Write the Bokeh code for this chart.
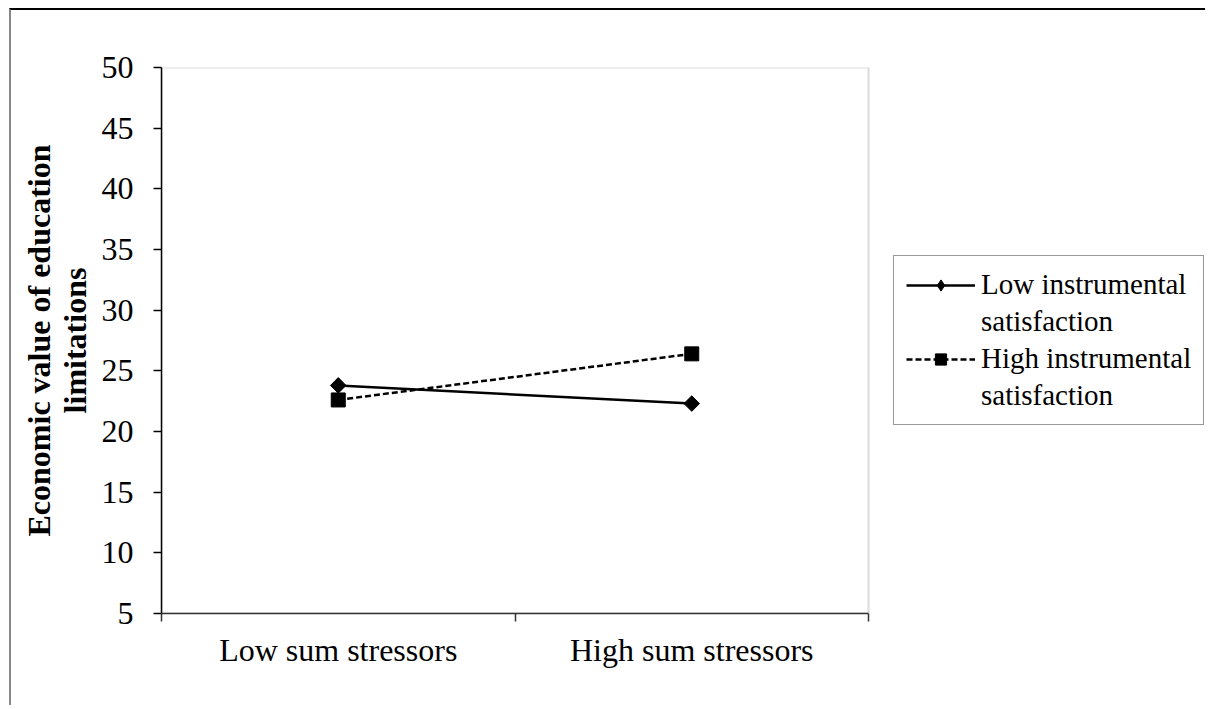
from bokeh.plotting import figure
from bokeh.models import (Range1d, FixedTicker, LinearAxis, Legend, LegendItem, ColumnDataSource,
                          BoxAnnotation, CDSView, IndexFilter)
from bokeh.embed import file_html
from bokeh.resources import INLINE

# ---- data ----
categories = ["Low sum stressors", "High sum stressors"]
low_instrumental = [23.8, 22.3]
high_instrumental = [22.6, 26.4]
y_ticks = [5, 10, 15, 20, 25, 30, 35, 40, 45, 50]
series_names = ["Low instrumental\nsatisfaction", "High instrumental\nsatisfaction"]
y_title = "Economic value of education\nlimitations"

FONT = "Liberation Serif"

# ---- layout (pixels) ----
W, H = 1196, 697
LEFT, TOP, BOTTOM = 150, 57, 94
PLOT_PX = 707              # width of the drawn plot area
FRAME_PX = W - LEFT        # frame spans to the right edge (legend sits inside it)

n = len(categories)
xs = [i + 0.5 for i in range(n)]
x_end = n * FRAME_PX / PLOT_PX

p = figure(width=W, height=H, output_backend="svg", toolbar_location=None,
           x_range=Range1d(0, x_end), y_range=Range1d(y_ticks[0], y_ticks[-1]),
           x_axis_type=None, y_axis_type=None)
p.min_border_left = LEFT
p.min_border_top = TOP
p.min_border_right = 0
p.min_border_bottom = BOTTOM
p.xgrid.visible = False
p.ygrid.visible = False
p.outline_line_color = None
p.background_fill_color = "white"
p.border_fill_color = "white"
p.styles = {"border-top": "2px solid #000000", "border-left": "2px solid #888888",
            "margin-left": "9px", "margin-top": "8px"}

# plot-area border (top/right visible; left/bottom covered by axes)
p.add_layout(BoxAnnotation(left=0, right=n, bottom=y_ticks[0], top=y_ticks[-1],
                           fill_alpha=0, line_color="#888888", line_width=2, level="underlay"))

# y axis
yax = LinearAxis(ticker=FixedTicker(ticks=y_ticks))
yax.major_tick_out = 8
yax.major_tick_in = 0
yax.minor_tick_line_color = None
yax.axis_line_color = "black"
yax.axis_line_width = 1.5
yax.major_tick_line_color = "black"
yax.major_tick_line_width = 1.5
yax.major_label_text_font = FONT
yax.major_label_text_font_size = "32px"
yax.major_label_text_color = "black"
yax.major_label_standoff = 20
yax.axis_label = y_title
yax.axis_label_text_font = FONT
yax.axis_label_text_font_size = "32px"
yax.axis_label_text_font_style = "bold"
yax.axis_label_text_color = "black"
yax.axis_label_text_line_height = 1.0
yax.axis_label_standoff = 6
p.add_layout(yax, "left")

# x axis
xax = LinearAxis(ticker=FixedTicker(ticks=xs, minor_ticks=list(range(n + 1))), bounds=(0, n))
xax.major_label_overrides = {x: c for x, c in zip(xs, categories)}
xax.major_tick_line_color = None
xax.major_tick_out = 8
xax.major_tick_in = 0
xax.minor_tick_out = 8
xax.minor_tick_in = 0
xax.minor_tick_line_color = "#333333"
xax.minor_tick_line_width = 1.5
xax.axis_line_color = "#333333"
xax.axis_line_width = 1.5
xax.major_label_text_font = FONT
xax.major_label_text_font_size = "32px"
xax.major_label_text_color = "black"
xax.major_label_standoff = 10
p.add_layout(xax, "below")

# series
src_low = ColumnDataSource(dict(x=xs, y=low_instrumental))
src_high = ColumnDataSource(dict(x=xs, y=high_instrumental))

l1 = p.line("x", "y", source=src_low, line_color="black", line_width=2.5)
l2 = p.line("x", "y", source=src_high, line_color="black", line_width=2.5, line_dash="6 3")

# legend-only markers: one point each, hidden underneath the real (larger) markers
lm1 = p.scatter("x", "y", source=src_low, view=CDSView(filter=IndexFilter(indices=[0])),
                marker="diamond", size=8, fill_color="black", line_color="black")
lm2 = p.scatter("x", "y", source=src_high, view=CDSView(filter=IndexFilter(indices=[0])),
                marker="square", size=8, fill_color="black", line_color="black")

m1 = p.scatter("x", "y", source=src_low, marker="square", angle=0.785398, size=11,
               fill_color="black", line_color="black")
m2 = p.scatter("x", "y", source=src_high, marker="square", size=14,
               fill_color="black", line_color="black")

blank1 = p.scatter("x", "y", source=src_low, view=CDSView(filter=IndexFilter(indices=[])),
                   fill_alpha=0, line_alpha=0)
blank2 = p.scatter("x", "y", source=src_high, view=CDSView(filter=IndexFilter(indices=[])),
                   fill_alpha=0, line_alpha=0)

n1 = series_names[0].split("\n")
n2 = series_names[1].split("\n")
legend = Legend(items=[
    LegendItem(label=n1[0], renderers=[l1, lm1]),
    LegendItem(label=n1[1], renderers=[blank1]),
    LegendItem(label=n2[0], renderers=[l2, lm2]),
    LegendItem(label=n2[1], renderers=[blank2]),
])
legend.location = (732, 188)
legend.padding = 12
legend.spacing = 4
legend.glyph_width = 69
legend.glyph_height = 28
legend.label_standoff = 6
legend.label_text_font = FONT
legend.label_text_font_size = "29px"
legend.label_text_color = "black"
legend.label_height = 30
legend.border_line_color = "#333333"
legend.border_line_width = 1.5
legend.background_fill_color = "white"
legend.background_fill_alpha = 1
p.add_layout(legend, "center")

open("out.html", "w").write(file_html(p, INLINE))
